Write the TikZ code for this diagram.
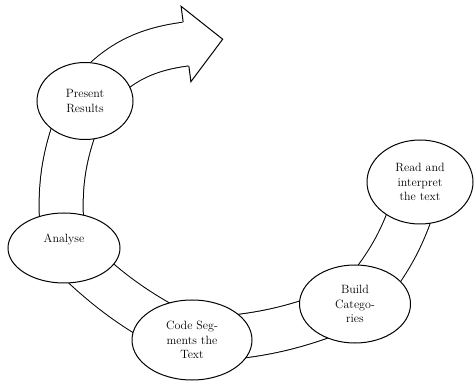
\documentclass[tikz,border=0pt]{standalone}
\usetikzlibrary{shapes.geometric,backgrounds}
\tikzset{
  stage/.style={ellipse, draw=black, line width=1pt, fill=white, inner sep=0pt, align=center, font=\fontsize{12}{14.5}\selectfont},
  band/.style={draw=black, line width=1pt, double=white, double distance=43pt},
  head/.style={draw=black, line width=1pt, line join=miter}
}
\begin{document}
\begin{tikzpicture}[x=1pt,y=1pt]
  \useasboundingbox (0,0) rectangle (476,380);

  % the five stages
  \node[stage, minimum width=96pt, minimum height=77pt] (present) at (85,279) {Present\\Results};
  \node[stage, minimum width=106pt, minimum height=84pt] (read) at (420,198) {Read and\\interpret\\the text};
  \node[stage, minimum width=111pt, minimum height=78pt] (build) at (355,76) {Build\\Catego-\\ries};
  \node[stage, minimum width=120pt, minimum height=80pt] (code) at (192,40) {Code Seg-\\ments the\\Text};
  \node[stage, minimum width=112pt, minimum height=70pt] (analyse) at (64,132) {Analyse\\\strut};
  \coordinate (shaftend) at (186,336);

  % the broad band behind the stages
  \begin{scope}[on background layer]
    \path (read.center) edge[band, bend left=13] (build.center);
    \path (build.center) edge[band, bend left=10] (code.center);
    \path (code.center) edge[band, bend left=9] (analyse.center);
    \path (analyse.center) edge[band, bend left=15] (present.center);
    \path (present.center) edge[band, bend left=22] (shaftend);
  \end{scope}

  % arrow head
  \begin{scope}[shift={(shaftend)}, rotate=7.4]
    \fill[white] (-0.5,22) -- (0,38) -- (37,0) -- (0,-38) -- (-0.5,-22) -- cycle;
    \draw[head] (0,22) -- (0,38) -- (37,0) -- (0,-38) -- (0,-22);
  \end{scope}
\end{tikzpicture}
\end{document}
